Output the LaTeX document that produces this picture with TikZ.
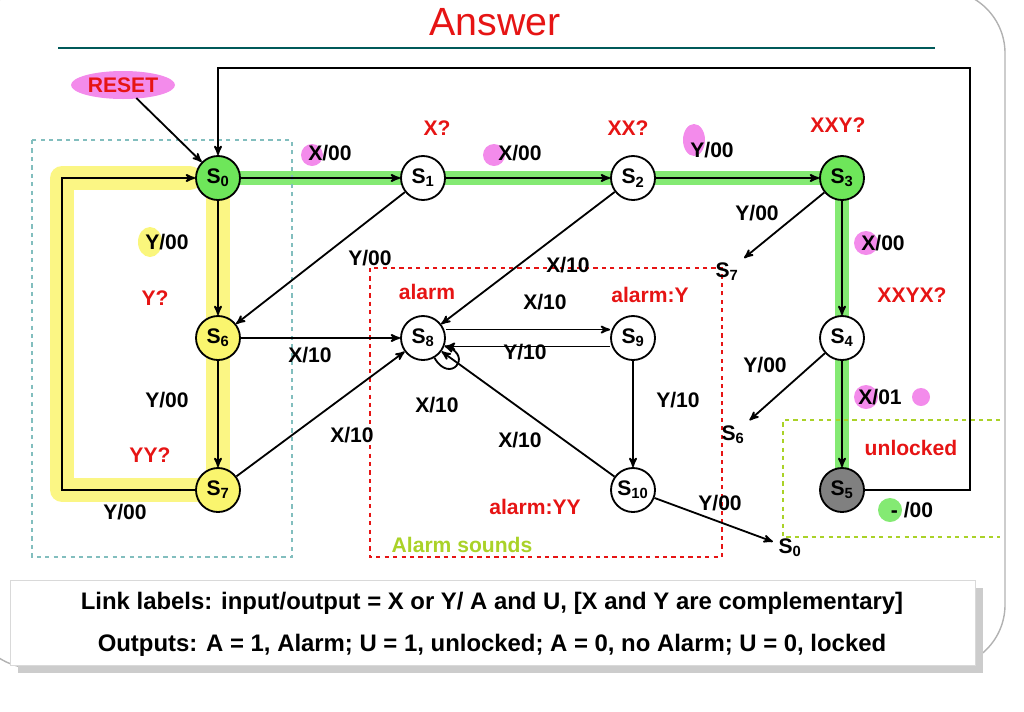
\documentclass[tikz,border=0pt]{standalone}
\usepackage{fontspec}
\setmainfont{Liberation Sans}
\usetikzlibrary{arrows,automata}
\definecolor{hlgreen}{RGB}{110,230,90}
\definecolor{hlyellow}{RGB}{250,245,110}
\definecolor{hlpink}{RGB}{240,110,230}
\definecolor{boxcyan}{RGB}{130,190,190}
\definecolor{boxlime}{RGB}{170,210,40}
\definecolor{ansred}{RGB}{230,20,20}
\begin{document}
\begin{tikzpicture}[x=0.25mm,y=-0.25mm,->,>=stealth',line width=1.3pt,
		font=\fontsize{15}{17}\selectfont\bfseries]
		\tikzstyle{every state}=[fill=white,draw=black,text=black,minimum size=11mm,inner sep=0pt,line width=1.3pt]
		\tikzstyle{red label}=[text=ansred]
		\tikzstyle{hl}=[-,line cap=round,line join=round,opacity=.85]
		\useasboundingbox (0,0) rectangle (1024,711);
		
		% frame and title
		\draw[-,gray!60,line width=1pt,rounded corners=45] (-30,-10) rectangle (1005,668);
		\node (title) at (495,22) {\fontsize{28}{30}\selectfont\mdseries\textcolor{ansred}{Answer}};
		\draw[-,line width=2pt,teal!70!black] (58,48) -- (935,48);
		
		% highlights
		\draw[hl,hlgreen,line width=3.6mm] (218,178) -- (842,178) -- (842,490);
		\draw[hl,hlyellow,line width=6mm] (218,178) -- (218,490) -- (62,490) -- (62,178) -- (190,178);
		\fill[hlpink,opacity=.8] (123,85) ellipse (52 and 14);
		\fill[hlpink,opacity=.8] (312,155) circle (11);
		\fill[hlpink,opacity=.8] (494,155) circle (11);
		\fill[hlpink,opacity=.8] (694,140) ellipse (11 and 16);
		\fill[hlpink,opacity=.8] (866,243) circle (12);
		\fill[hlpink,opacity=.8] (866,397) circle (12);
		\fill[hlpink,opacity=.8] (921,397) circle (9);
		\fill[hlgreen,opacity=.85] (890,510) circle (12);
		\fill[hlyellow,opacity=.9] (150,242) ellipse (12 and 15);
		
		% dashed boxes
		\draw[-,boxcyan,dashed,line width=2pt] (32,140) rectangle (292,557);
		\draw[-,ansred,dashed,line width=2pt] (370,268) rectangle (722,557);
		\draw[-,boxlime,dashed,line width=2pt] (1000,420) -- (783,420) -- (783,537) -- (1000,537);
		
		% states
		\node[state,fill=hlgreen]  (s0)  at (218,178) {S\textsubscript{0}};
		\node[state]               (s1)  at (423,178) {S\textsubscript{1}};
		\node[state]               (s2)  at (633,178) {S\textsubscript{2}};
		\node[state,fill=hlgreen]  (s3)  at (842,178) {S\textsubscript{3}};
		\node[state,fill=hlyellow] (s6)  at (218,338) {S\textsubscript{6}};
		\node[state]               (s8)  at (423,338) {S\textsubscript{8}};
		\node[state]               (s9)  at (633,338) {S\textsubscript{9}};
		\node[state]               (s4)  at (842,338) {S\textsubscript{4}};
		\node[state,fill=hlyellow] (s7)  at (218,490) {S\textsubscript{7}};
		\node[state]               (s10) at (633,490) {S\textsubscript{10}};
		\node[state,fill=gray]     (s5)  at (842,490) {S\textsubscript{5}};
		
		\node (reset) at (123,85) {\textcolor{ansred}{RESET}};
		\node (t7) at (727,272) {S\textsubscript{7}};
		\node (t6) at (733,435) {S\textsubscript{6}};
		\node (t0) at (790,548) {S\textsubscript{0}};
		
		% transitions
		\path (reset) edge (s0);
		\path (s0) edge (s1);
		\path (s1) edge (s2);
		\path (s2) edge (s3);
		\path (s0) edge (s6);
		\path (s6) edge (s7);
		\path (s3) edge (s4);
		\path (s4) edge (s5);
		\path (s1) edge (s6);
		\path (s2) edge (s8);
		\path (s6) edge (s8);
		\path (s7) edge (s8);
		\path (s8) edge [out=-60,in=-20,looseness=5] (s8);
		\path ([yshift=-6]s9.west) edge ([yshift=-6]s8.east);
		\path ([yshift=6]s8.east) edge ([yshift=6]s9.west);
		\path (s9) edge (s10);
		\path (s10) edge (s8);
		\path (s3) edge (t7);
		\path (s4) edge (t6);
		\path (s10) edge (t0);
		\draw (s7) -- (62,490) -- (62,178) -- (s0);
		\draw (s5) -- (970,490) -- (970,68) -- (218,68) -- (s0);
		
		% labels
		\node at (330,153) {X/00};
		\node at (520,153) {X/00};
		\node at (712,150) {Y/00};
		\node at (370,258) {Y/00};
		\node[red label] at (437,128) {X?};
		\node[red label] at (628,128) {XX?};
		\node[red label] at (838,125) {XXY?};
		\node at (757,213) {Y/00};
		\node at (883,243) {X/00};
		\node[red label] at (912,295) {XXYX?};
		\node at (765,365) {Y/00};
		\node at (880,397) {X/01};
		\node[red label] at (911,448) {unlocked};
		\node at (912,510) {- /00};
		\node at (720,503) {Y/00};
		\node at (167,242) {Y/00};
		\node[red label] at (155,298) {Y?};
		\node at (167,400) {Y/00};
		\node[red label] at (150,455) {YY?};
		\node at (125,512) {Y/00};
		\node at (568,265) {X/10};
		\node at (310,355) {X/10};
		\node at (352,435) {X/10};
		\node at (437,405) {X/10};
		\node at (545,302) {X/10};
		\node at (525,352) {Y/10};
		\node at (678,400) {Y/10};
		\node at (520,440) {X/10};
		\node[red label] at (427,292) {alarm};
		\node[red label] at (650,295) {alarm:Y};
		\node[red label] at (535,507) {alarm:YY};
		\node[text=boxlime] at (462,545) {Alarm sounds};
		
		% footer
		\fill[-,gray!40] (18,588) rectangle (983,673);
		\filldraw[-,draw=gray!30,fill=white,line width=.5pt] (10,580) rectangle (975,665);
		\node[font=\fontsize{17}{19}\selectfont\bfseries] (foot1) at (492,603) {Link labels: input/output = X or Y/ A and U, [X and Y are complementary]};
		\node[font=\fontsize{17}{19}\selectfont\bfseries] (foot2) at (492,645) {Outputs: A = 1, Alarm; U = 1, unlocked; A = 0, no Alarm; U = 0, locked};
\end{tikzpicture}
\end{document}
